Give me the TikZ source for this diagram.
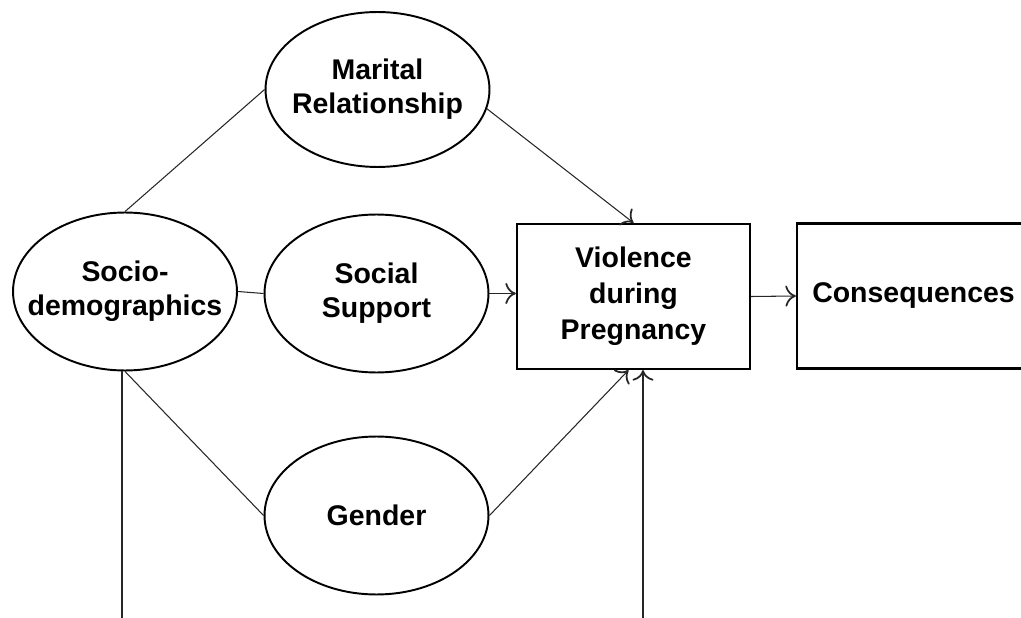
\documentclass[tikz,border=0pt]{standalone}
\usepackage{fontspec}
\setmainfont{Liberation Sans}
\usepackage{tikz}
\usetikzlibrary{positioning,arrows.meta,calc,shapes.geometric}

\begin{document}
\begin{tikzpicture}[x=0.02cm, y=-0.02cm,
    factor/.style={ellipse, draw, line width=1.1pt, inner ysep=0, inner xsep=-0.5cm, minimum width=4.48cm, minimum height=3.16cm, align=center, font=\fontsize{16.2}{19.5}\selectfont\bfseries},
    outcome/.style={rectangle, draw, line width=1.3pt, inner sep=0, minimum width=4.66cm, minimum height=2.9cm, align=center, font=\fontsize{16.2}{20.5}\selectfont\bfseries},
    link/.style={line width=0.6pt, draw=black!85},
    arr/.style={link, -{To[length=6pt,width=12pt,line width=1pt]}}]

  % Frame
  \useasboundingbox (0, 0) rectangle (1021, 618);
  \clip (0, 0) rectangle (1021, 618);

  % Ellipses
  \node[factor, minimum height=3.1cm] (marital) at (377.5, 89.5) {Marital\\Relationship};
  \node[factor] (socio) at (125, 291.5) {Socio-\\demographics};
  \node[factor] (social) at (376.5, 293.5) {Social\\Support};
  \node[factor] (gender) at (376.5, 515.5) {Gender};

  % Boxes
  \node[outcome] (violence) at (633.5, 296.5) {Violence\\during\\Pregnancy};
  \node[outcome] (conseq) at (913.5, 296) {Consequences};

  % Free ends at the lower edge
  \coordinate (sout) at (122, 618);
  \coordinate (vin) at (643, 618);

  % Connections
  \draw[link] (socio.north) -- (marital.west);
  \draw[link] (socio.east) -- (social.west);
  \draw[link] (socio.south) -- (gender.west);
  \draw[link] (sout |- socio.south) -- (sout);
  \draw[arr] (marital.-10) -- (violence.north);
  \draw[arr] (social.east) -- (social.east -| violence.west);
  \draw[arr] (gender.east) -- ([xshift=-0.1cm]violence.south);
  \draw[arr] (vin) -- (vin |- violence.south);
  \draw[arr] (violence.east) -- (conseq.west);

\end{tikzpicture}
\end{document}
